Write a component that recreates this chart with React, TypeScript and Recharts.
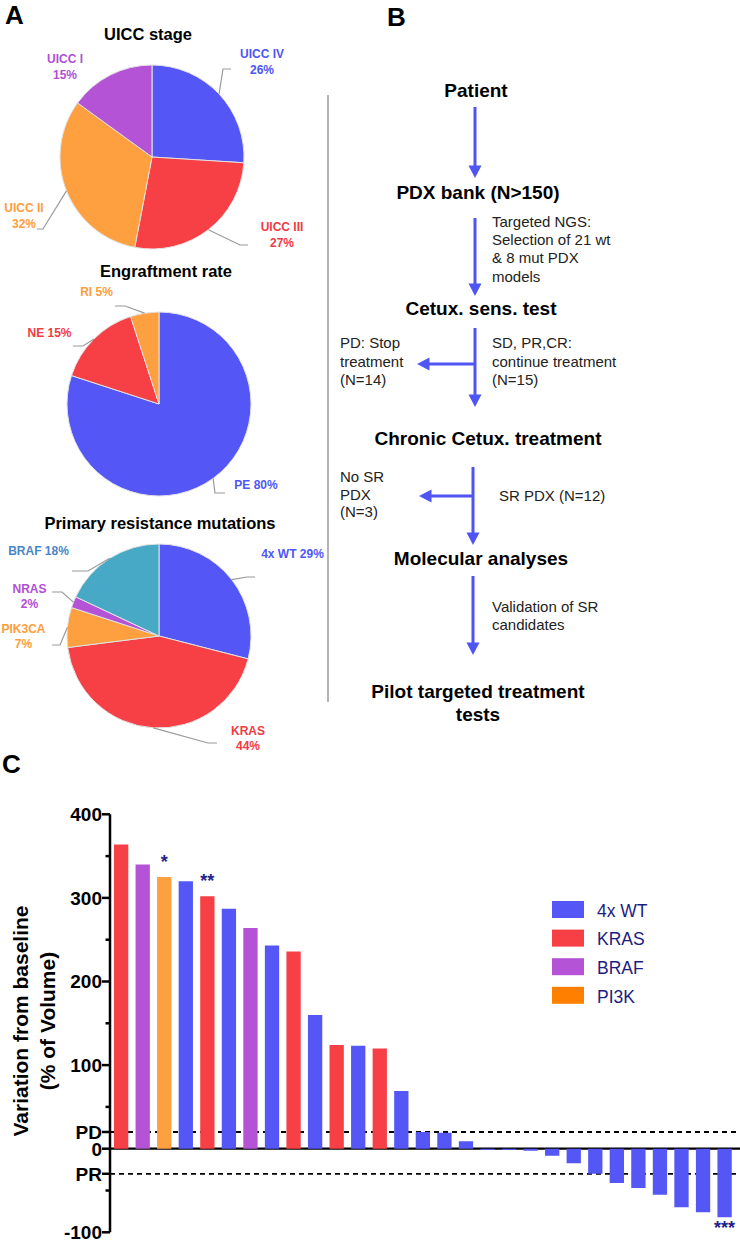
import React from 'react';
import { PieChart, Pie, Cell, BarChart, Bar, XAxis, YAxis, ReferenceLine, LabelList } from 'recharts';

const FONT = '"Liberation Sans", Arial, Helvetica, sans-serif';

// ---------- Panel A data ----------
const uiccNames = ['UICC IV', 'UICC III', 'UICC II', 'UICC I'];
const uiccValues = [26, 27, 32, 15];
const engraftNames = ['PE', 'NE', 'RI'];
const engraftValues = [80, 15, 5];
const mutationNames = ['4x WT', 'KRAS', 'PIK3CA', 'NRAS', 'BRAF'];
const mutationValues = [29, 44, 7, 2, 18];

// ---------- Panel C data ----------
const modelGroups = [
  'KRAS', 'BRAF', 'PI3K', '4x WT', 'KRAS', '4x WT', 'BRAF', '4x WT', 'KRAS', '4x WT',
  'KRAS', '4x WT', 'KRAS', '4x WT', '4x WT', '4x WT', '4x WT', '4x WT', '4x WT', '4x WT',
  '4x WT', '4x WT', '4x WT', '4x WT', '4x WT', '4x WT', '4x WT', '4x WT', '4x WT',
];
const volumeChange = [
  364, 340, 325, 320, 302, 287, 264, 243, 236, 160,
  124, 123, 120, 69, 20, 19, 9, -1.5, -1.5, -2.5,
  -8.5, -17.5, -30, -41, -47, -55, -70, -76, -82,
];
const significance = [
  '', '', '*', '', '**', '', '', '', '', '',
  '', '', '', '', '', '', '', '', '', '',
  '', '', '', '', '', '', '', '', '***',
];
const legendGroups = ['4x WT', 'KRAS', 'BRAF', 'PI3K'];
const yTicks = [-100, -50, -30, 0, 20, 50, 100, 150, 200, 250, 300, 350, 400];
const yTickLabels: Record<number, string> = { 400: '400', 300: '300', 200: '200', 100: '100', 20: 'PD', 0: '0', [-30]: 'PR', [-100]: '-100' };
const pdLevel = 20;
const prLevel = -30;

// ---------- styles ----------
const BLUE = '#5457f6';
const RED = '#f64045';
const ORANGE = '#ffa040';
const PURPLE = '#b553d7';
const TEAL = '#47a9c5';
const groupColors: Record<string, string> = { '4x WT': BLUE, KRAS: RED, BRAF: PURPLE, PI3K: ORANGE };
const legendColors: Record<string, string> = { '4x WT': BLUE, KRAS: RED, BRAF: PURPLE, PI3K: '#ff8000' };
const uiccColors = [BLUE, RED, ORANGE, PURPLE];
const engraftColors = [BLUE, RED, ORANGE];
const mutationColors = [BLUE, RED, ORANGE, PURPLE, TEAL];

type LabelLayout = {
  elbow: [number, number] | null;
  end: [number, number] | null;
  text: [number, number];
  twoLine: boolean;
  color: string;
};

const uiccLayout: LabelLayout[] = [
  { elbow: [71, -88], end: [79, -88], text: [110, -99], twoLine: true, color: '#4d55f2' },
  { elbow: [88, 88], end: [96, 88], text: [130, 74], twoLine: true, color: '#f23b44' },
  { elbow: [-109, 72], end: [-115, 72], text: [-128, 55], twoLine: true, color: '#ff9d3c' },
  { elbow: null, end: null, text: [-87, -94], twoLine: true, color: '#b04fd4' },
];
const engraftLayout: LabelLayout[] = [
  { elbow: [56, 89], end: [66, 89], text: [97, 84.5], twoLine: false, color: '#5057f5' },
  { elbow: [-76, -58], end: [-86, -58], text: [-109.5, -67.5], twoLine: false, color: '#f23b44' },
  { elbow: [-34, -98], end: [-44, -98], text: [-62.5, -108.5], twoLine: false, color: '#ff9d3c' },
];
const mutationLayout: LabelLayout[] = [
  { elbow: [88, -59], end: [96, -59], text: [133.5, -78.5], twoLine: false, color: '#5057f5' },
  { elbow: [49, 107], end: [58, 107], text: [89, 98.5], twoLine: true, color: '#f23b44' },
  { elbow: [-99, 9], end: [-107, 9], text: [-135.5, -3.5], twoLine: true, color: '#ff9d3c' },
  { elbow: [-97, -44], end: [-107, -44], text: [-129.5, -43.5], twoLine: true, color: '#b04fd4' },
  { elbow: [-71, -65], end: [-87, -65], text: [-120.5, -81.5], twoLine: false, color: '#4a86c6' },
];

const RAD = Math.PI / 180;

function makeLabel(layouts: LabelLayout[]) {
  return (props: any) => {
    const { cx, cy, midAngle, outerRadius, index, name, value } = props;
    const lay = layouts[index];
    if (!lay) return null;
    const sx = cx + outerRadius * Math.cos(-midAngle * RAD);
    const sy = cy + outerRadius * Math.sin(-midAngle * RAD);
    const tx = cx + lay.text[0];
    const ty = cy + lay.text[1];
    const common = { fill: lay.color, fontSize: 12, fontWeight: 700, fontFamily: FONT, textAnchor: 'middle' as const };
    return (
      <g key={`lbl-${index}`}>
        {lay.elbow && lay.end && (
          <polyline
            points={`${sx},${sy} ${cx + lay.elbow[0]},${cy + lay.elbow[1]} ${cx + lay.end[0]},${cy + lay.end[1]}`}
            fill="none"
            stroke="#9a9a9a"
            strokeWidth={1.2}
          />
        )}
        {lay.twoLine ? (
          <>
            <text x={tx} y={ty} {...common}>{name}</text>
            <text x={tx} y={ty + 15.5} {...common}>{`${value}%`}</text>
          </>
        ) : (
          <text x={tx} y={ty} {...common}>{`${name} ${value}%`}</text>
        )}
      </g>
    );
  };
}

const YTick = (props: any) => {
  const { x, y, payload } = props;
  const v = payload.value as number;
  const label = yTickLabels[v];
  const major = label !== undefined;
  return (
    <g>
      <line x1={x - (major ? 8 : 4.5)} x2={x} y1={y} y2={y} stroke="#000" strokeWidth={2.5} />
      {major && (
        <text x={x - 8} y={y} dy="0.36em" textAnchor="end" fontSize={19} fontWeight={700} fontFamily={FONT} fill="#000">
          {label}
        </text>
      )}
    </g>
  );
};

const StarLabel = (props: any) => {
  const { x, y, width, height, value, index } = props;
  if (!value) return null;
  const top = Math.min(y, y + height);
  const bottom = Math.max(y, y + height);
  const neg = volumeChange[index] < 0;
  const ty = neg ? bottom + 17 : top - 9.5;
  return (
    <text x={x + width / 2} y={ty} textAnchor="middle" fontSize={18} fontWeight={700} fill="#23238a" fontFamily={FONT}>
      {value}
    </text>
  );
};

const FLOW_BLUE = '#4f55f3';

function VArrow({ x, y1, y2 }: { x: number; y1: number; y2: number }) {
  return (
    <g>
      <line x1={x} y1={y1} x2={x} y2={y2 - 10} stroke={FLOW_BLUE} strokeWidth={3} />
      <polygon points={`${x - 6.5},${y2 - 12.5} ${x + 6.5},${y2 - 12.5} ${x},${y2}`} fill={FLOW_BLUE} />
    </g>
  );
}
function HArrow({ y, x1, x2 }: { y: number; x1: number; x2: number }) {
  return (
    <g>
      <line x1={x1} y1={y} x2={x2 + 10} y2={y} stroke={FLOW_BLUE} strokeWidth={3} />
      <polygon points={`${x2 + 12.5},${y - 6.5} ${x2 + 12.5},${y + 6.5} ${x2},${y}`} fill={FLOW_BLUE} />
    </g>
  );
}

function Flow() {
  const bold = { fontSize: 19, fontWeight: 700, fontFamily: FONT, fill: '#000', textAnchor: 'middle' as const };
  const reg = { fontSize: 15, fontFamily: FONT, fill: '#222' };
  const lines = (x: number, y0: number, step: number, arr: string[]) =>
    arr.map((t, i) => (
      <text key={t + i} x={x} y={y0 + i * step} {...reg}>{t}</text>
    ));
  return (
    <svg width={740} height={740} style={{ position: 'absolute', left: 0, top: 0 }}>
      <text x={5} y={24} fontSize={26} fontWeight={700} fontFamily={FONT}>A</text>
      <text x={387} y={26} fontSize={26} fontWeight={700} fontFamily={FONT}>B</text>
      <text x={148} y={40} fontSize={16.5} fontWeight={700} fontFamily={FONT} textAnchor="middle">UICC stage</text>
      <text x={166} y={277} fontSize={16.5} fontWeight={700} fontFamily={FONT} textAnchor="middle">Engraftment rate</text>
      <text x={160} y={529} fontSize={16.5} fontWeight={700} fontFamily={FONT} textAnchor="middle">Primary resistance mutations</text>
      <line x1={328} x2={328} y1={95} y2={702} stroke="#9a9a9a" strokeWidth={1.5} />
      <text x={476} y={96.7} {...bold}>Patient</text>
      <VArrow x={475} y1={107} y2={178} />
      <text x={478} y={199} {...bold}>PDX bank (N&gt;150)</text>
      <VArrow x={475} y1={218} y2={296} />
      {lines(492, 226.7, 18.3, ['Targeted NGS:', 'Selection of 21 wt', '& 8 mut PDX', 'models'])}
      <text x={481} y={315} {...bold}>Cetux. sens. test</text>
      <VArrow x={475} y1={328} y2={407} />
      <HArrow y={364} x1={475} x2={417} />
      {lines(340, 348.3, 18.3, ['PD: Stop', 'treatment', '(N=14)'])}
      {lines(492, 348.3, 18.3, ['SD, PR,CR:', 'continue treatment', '(N=15)'])}
      <text x={488} y={445} {...bold}>Chronic Cetux. treatment</text>
      <VArrow x={473} y1={467} y2={545} />
      <HArrow y={496} x1={473} x2={419} />
      {lines(340, 481.7, 17.8, ['No SR', 'PDX', '(N=3)'])}
      {lines(499, 500.5, 18, ['SR PDX (N=12)'])}
      <text x={481} y={565} {...bold}>Molecular analyses</text>
      <VArrow x={473} y1={576} y2={655} />
      {lines(492, 611.7, 17.8, ['Validation of SR', 'candidates'])}
      <text x={478} y={697.5} {...bold}>Pilot targeted treatment</text>
      <text x={478} y={721} {...bold}>tests</text>
    </svg>
  );
}

export default function App() {
  const uiccData = uiccNames.map((n, i) => ({ name: n, value: uiccValues[i] }));
  const engraftData = engraftNames.map((n, i) => ({ name: n, value: engraftValues[i] }));
  const mutationData = mutationNames.map((n, i) => ({ name: n, value: mutationValues[i] }));
  const barData = volumeChange.map((v, i) => ({ idx: i, value: v, group: modelGroups[i], sig: significance[i] }));

  return (
    <div style={{ position: 'absolute', left: 0, top: 0, width: 740, height: 1241, background: '#fff', overflow: 'hidden', fontFamily: FONT }}>
      <div style={{ position: 'absolute', left: 0, top: 0 }}>
        <PieChart width={330} height={770} margin={{ top: 0, right: 0, bottom: 0, left: 0 }}>
          <Pie data={uiccData} dataKey="value" nameKey="name" cx={152} cy={157} outerRadius={92}
            startAngle={90} endAngle={-270} isAnimationActive={false} label={makeLabel(uiccLayout)} labelLine={false}
            stroke="#e2e2e2" strokeWidth={1}>
            {uiccData.map((d, i) => <Cell key={d.name} fill={uiccColors[i]} />)}
          </Pie>
          <Pie data={engraftData} dataKey="value" nameKey="name" cx={159} cy={404} outerRadius={92}
            startAngle={90} endAngle={-270} isAnimationActive={false} label={makeLabel(engraftLayout)} labelLine={false}
            stroke="#e2e2e2" strokeWidth={1}>
            {engraftData.map((d, i) => <Cell key={d.name} fill={engraftColors[i]} />)}
          </Pie>
          <Pie data={mutationData} dataKey="value" nameKey="name" cx={159} cy={636} outerRadius={92}
            startAngle={90} endAngle={-270} isAnimationActive={false} label={makeLabel(mutationLayout)} labelLine={false}
            stroke="#e2e2e2" strokeWidth={1}>
            {mutationData.map((d, i) => <Cell key={d.name} fill={mutationColors[i]} />)}
          </Pie>
        </PieChart>
      </div>

      <Flow />

      <div style={{ position: 'absolute', left: 0, top: 700 }}>
        <BarChart width={740} height={541} data={barData} margin={{ top: 114.3, right: 0, bottom: 8.7, left: 0 }} barSize={14.3}>
          <XAxis dataKey="idx" type="category" hide padding={{ left: 0, right: 5 }} />
          <YAxis type="number" domain={[-100, 400]} ticks={yTicks} interval={0} width={110} tickSize={0} tickMargin={0}
            tick={<YTick />} tickLine={false} axisLine={{ stroke: '#000', strokeWidth: 2.5 }} allowDataOverflow />
          <ReferenceLine y={pdLevel} stroke="#000" strokeWidth={1.8} strokeDasharray="5 4" {...({ zIndex: -10 } as any)} />
          <ReferenceLine y={prLevel} stroke="#000" strokeWidth={1.8} strokeDasharray="5 4" {...({ zIndex: -10 } as any)} />
          <ReferenceLine y={0} stroke="#000" strokeWidth={2.2} {...({ zIndex: -10 } as any)} />
          <Bar dataKey="value" isAnimationActive={false}>
            {barData.map((d, i) => <Cell key={i} fill={groupColors[d.group]} />)}
            <LabelList dataKey="sig" content={<StarLabel />} />
          </Bar>
        </BarChart>
      </div>

      <svg width={740} height={541} style={{ position: 'absolute', left: 0, top: 700, pointerEvents: 'none' }}>
        <text x={2} y={73} fontSize={26} fontWeight={700} fontFamily={FONT}>C</text>
        <text transform="translate(28,321) rotate(-90)" textAnchor="middle" fontSize={21} fontWeight={700} fontFamily={FONT}>
          Variation from baseline
        </text>
        <text transform="translate(55,321) rotate(-90)" textAnchor="middle" fontSize={21} fontWeight={700} fontFamily={FONT}>
          (% of Volume)
        </text>
        {legendGroups.map((g, i) => (
          <g key={g}>
            <rect x={552} y={201 + i * 28.6} width={32} height={17} fill={legendColors[g]} />
            <text x={597} y={216.7 + i * 28.6} fontSize={17.5} fontFamily={FONT} fill="#1c1c82">{g}</text>
          </g>
        ))}
      </svg>
    </div>
  );
}
